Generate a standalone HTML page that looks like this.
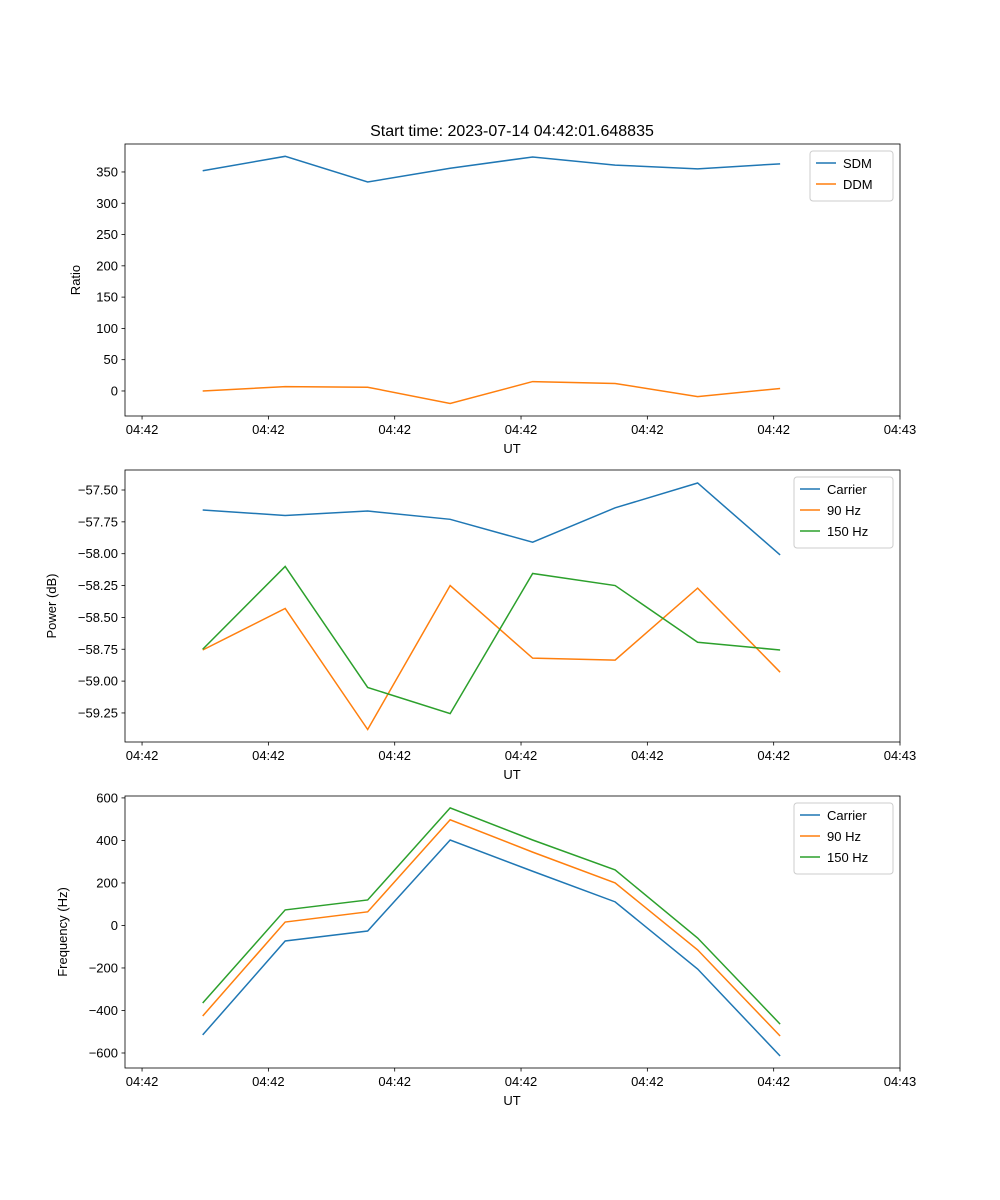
<!DOCTYPE html>
<html><head><meta charset="utf-8"><style>
body{margin:0;background:#fff}
svg{display:block;font-family:"Liberation Sans","DejaVu Sans",sans-serif}
</style></head><body>
<svg id="fig" width="1000" height="1200"></svg>
<script>
const xTickLabels=["04:42","04:42","04:42","04:42","04:42","04:42","04:43"];
const times=[0.48,1.133,1.786,2.439,3.092,3.745,4.398,5.051];
const sdm=[352,375,334,356,374,361,355,363];
const ddm=[0,7,6,-20,15,12,-9,4];
const pCarrier=[-57.657,-57.70,-57.665,-57.73,-57.91,-57.64,-57.445,-58.01];
const p90=[-58.756,-58.43,-59.38,-58.25,-58.82,-58.835,-58.27,-58.93];
const p150=[-58.75,-58.10,-59.05,-59.255,-58.155,-58.25,-58.695,-58.756];
const fCarrier=[-515,-73,-26,402,255,111,-205,-614];
const f90=[-426,16,64,497,345,200,-115,-520];
const f150=[-365,73,120,553,402,261,-59,-464];
const ticks1=[0,50,100,150,200,250,300,350];
const ticks2=[-57.5,-57.75,-58.0,-58.25,-58.5,-58.75,-59.0,-59.25];
const ticks3=[600,400,200,0,-200,-400,-600];

const NS="http://www.w3.org/2000/svg";
const svg=document.getElementById('fig');
function mk(t,a,p){const e=document.createElementNS(NS,t);for(const k in a)e.setAttribute(k,a[k]);(p||svg).appendChild(e);return e;}
const X0=125,X1=900,XMIN=-0.135,XMAX=6.0;
const xs=v=>X0+(v-XMIN)/(XMAX-XMIN)*(X1-X0);
const C=["#1f77b4","#ff7f0e","#2ca02c"];
function fmt(v,d){return (v<0?"\u2212":"")+Math.abs(v).toFixed(d);}
function panel(name,top,ymin,ymax,yt,dec,ylabel,series,labels,legW){
  const bot=top+272;
  const ys=v=>bot-(v-ymin)/(ymax-ymin)*272;
  const g=mk('g',{});
  
  
  for(let i=0;i<series.length;i++){
    const pl=mk('polyline',{points:times.map((t,j)=>xs(t)+','+ys(series[i][j])).join(' '),fill:'none',stroke:C[i],'stroke-width':1.5},g);
    
    
  }
  mk('rect',{x:X0,y:top,width:X1-X0,height:272,fill:'none',stroke:'#000','stroke-width':0.8},g);
  xTickLabels.forEach((l,i)=>{const x=xs(i);
    mk('line',{x1:x,x2:x,y1:bot,y2:bot+3.5,stroke:'#000','stroke-width':0.8},g);
    const t=mk('text',{x:x,y:bot+18,'font-size':13,'text-anchor':'middle'},g);t.textContent=l;
    });
  yt.forEach(v=>{const y=ys(v);
    mk('line',{x1:X0,x2:X0-3.5,y1:y,y2:y,stroke:'#000','stroke-width':0.8},g);
    const t=mk('text',{x:X0-7,y:y+4.5,'font-size':13,'text-anchor':'end'},g);t.textContent=fmt(v,dec);
    });
  const xl=mk('text',{x:512,y:bot+37,'font-size':13,'text-anchor':'middle'},g);xl.textContent='UT';
  
  const yx=name==='ratio-panel'?80:(name==='power-panel'?56:67);
  const yl=mk('text',{x:yx,y:top+136,'font-size':13,'text-anchor':'middle',transform:`rotate(-90 ${yx} ${top+136})`},g);yl.textContent=ylabel;
  
  const lx=X1-7-legW,ly=top+7,lh=8+labels.length*21;
  const lg=mk('g',{},g);
  mk('rect',{x:lx,y:ly,width:legW,height:lh,rx:3,fill:'#fff','fill-opacity':0.8,stroke:'#ccc'},lg);
  labels.forEach((l,i)=>{const y=ly+12+i*21;
    mk('line',{x1:lx+6,x2:lx+26,y1:y,y2:y,stroke:C[i],'stroke-width':1.5},lg);
    const t=mk('text',{x:lx+33,y:y+5,'font-size':13},lg);t.textContent=l;
    });
}
const tt=mk('text',{x:512,y:136,'font-size':16,'text-anchor':'middle'});
tt.textContent='Start time: 2023-07-14 04:42:01.648835';

panel('ratio-panel',144,-40,394.7,ticks1,0,'Ratio',[sdm,ddm],['SDM','DDM'],83);
panel('power-panel',470,-59.478,-57.343,ticks2,2,'Power (dB)',[pCarrier,p90,p150],['Carrier','90 Hz','150 Hz'],99);
panel('frequency-panel',796,-670.6,609,ticks3,0,'Frequency (Hz)',[fCarrier,f90,f150],['Carrier','90 Hz','150 Hz'],99);
</script>
</body></html>
